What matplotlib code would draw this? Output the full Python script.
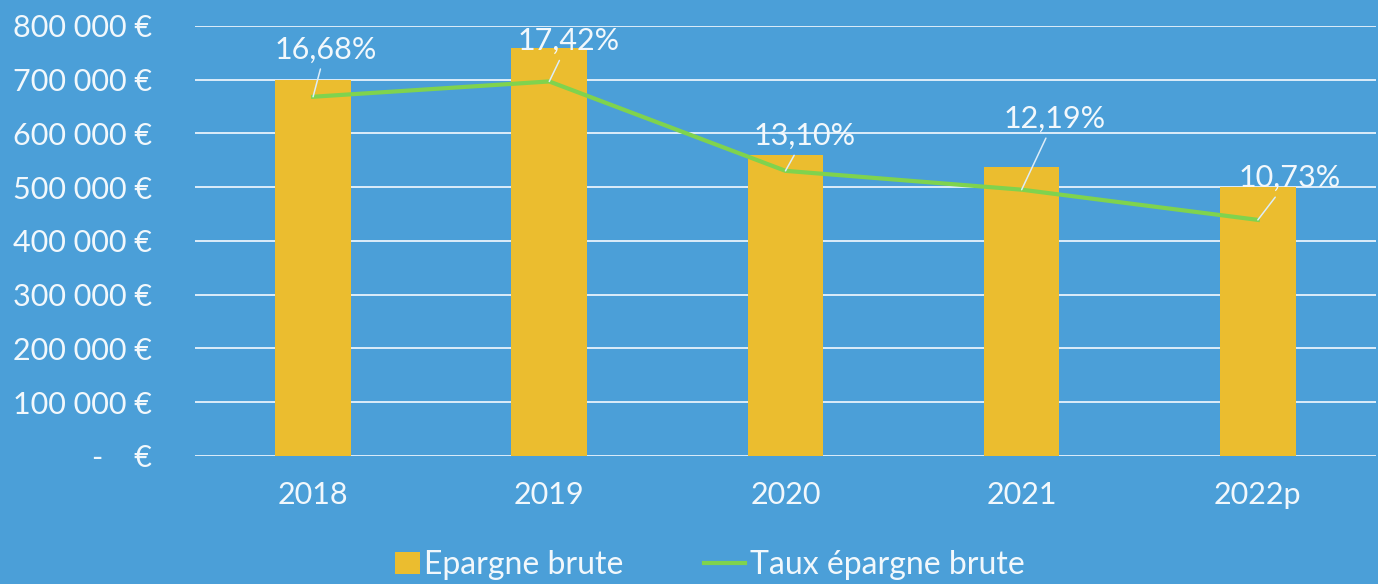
import matplotlib
matplotlib.use("Agg")
import matplotlib.pyplot as plt
from matplotlib.patches import Patch, Rectangle
from matplotlib.lines import Line2D
from matplotlib.legend_handler import HandlerPatch
from matplotlib.ticker import FuncFormatter, MultipleLocator

plt.rcParams["font.family"] = ["Lato", "DejaVu Sans"]

# données
annees = ["2018", "2019", "2020", "2021", "2022p"]
epargne_brute = [700000, 759000, 560000, 538000, 500000]
taux_epargne = [16.68, 17.42, 13.10, 12.19, 10.73]
taux_labels = ["16,68%", "17,42%", "13,10%", "12,19%", "10,73%"]

# couleurs
FOND = "#4b9fd8"
JAUNE = "#ebbd2f"
VERT = "#7fd34e"
GRILLE = "#dcedf9"
TEXTE = "#f2f8fc"

# décalage des étiquettes (points) par rapport au point de la courbe
label_offsets = [(9, 34), (14, 29), (14, 25), (24, 51), (23, 30)]


def fmt_euro(v, pos):
    if v == 0:
        return "-    €"
    return f"{int(v):,} €".replace(",", " ")


def petit_carre(legend, orig_handle, xdescent, ydescent, width, height, fontsize):
    # carré de légende plus petit que la ligne
    w = width * 0.6
    return Rectangle((width - w - xdescent, -ydescent), w, height)


fig = plt.figure(figsize=(13.78, 5.84), dpi=100, facecolor=FOND)
ax = fig.add_axes([0.1415, 0.2192, 0.857, 0.7363])
ax.set_facecolor(FOND)

x = list(range(len(annees)))
ax.bar(x, epargne_brute, width=0.32, color=JAUNE, zorder=2)

ax.set_ylim(0, 800000)
ax.set_xlim(-0.5, len(annees) - 0.5)
ax.yaxis.set_major_locator(MultipleLocator(100000))
ax.yaxis.set_major_formatter(FuncFormatter(fmt_euro))
ax.grid(axis="y", color=GRILLE, linewidth=1.4, zorder=1)
ax.set_axisbelow(True)
for s in ax.spines.values():
    s.set_visible(False)
ax.tick_params(axis="y", length=0, pad=31, labelsize=22, labelcolor=TEXTE)
ax.tick_params(axis="x", length=0, pad=18, labelsize=22, labelcolor=TEXTE)
ax.set_xticks(x)
ax.set_xticklabels(annees)

# axe secondaire (masqué) pour le taux
ax2 = ax.twinx()
ax2.set_ylim(-0.68, 20.1)
ax2.axis("off")
ax2.plot(x, taux_epargne, color=VERT, linewidth=3, zorder=3)

for xi, yi, lab, off in zip(x, taux_epargne, taux_labels, label_offsets):
    ax2.annotate(
        lab,
        xy=(xi, yi),
        xytext=off,
        textcoords="offset points",
        ha="center",
        va="center",
        fontsize=22,
        color=TEXTE,
        arrowprops=dict(arrowstyle="-", color=GRILLE, lw=1.1, shrinkA=2, shrinkB=0),
        zorder=4,
    )

handles = [
    Patch(facecolor=JAUNE, edgecolor="none"),
    Line2D([0], [0], color=VERT, linewidth=3),
]
fig.legend(
    handles,
    ["Epargne brute", "Taux épargne brute"],
    loc="center",
    bbox_to_anchor=(0.509, 0.032),
    ncol=2,
    frameon=False,
    fontsize=23,
    labelcolor=TEXTE,
    handlelength=1.3,
    handletextpad=0.15,
    columnspacing=2.5,
    handler_map={Patch: HandlerPatch(patch_func=petit_carre)},
)

fig.savefig("out.png", dpi=100, facecolor=FOND)
